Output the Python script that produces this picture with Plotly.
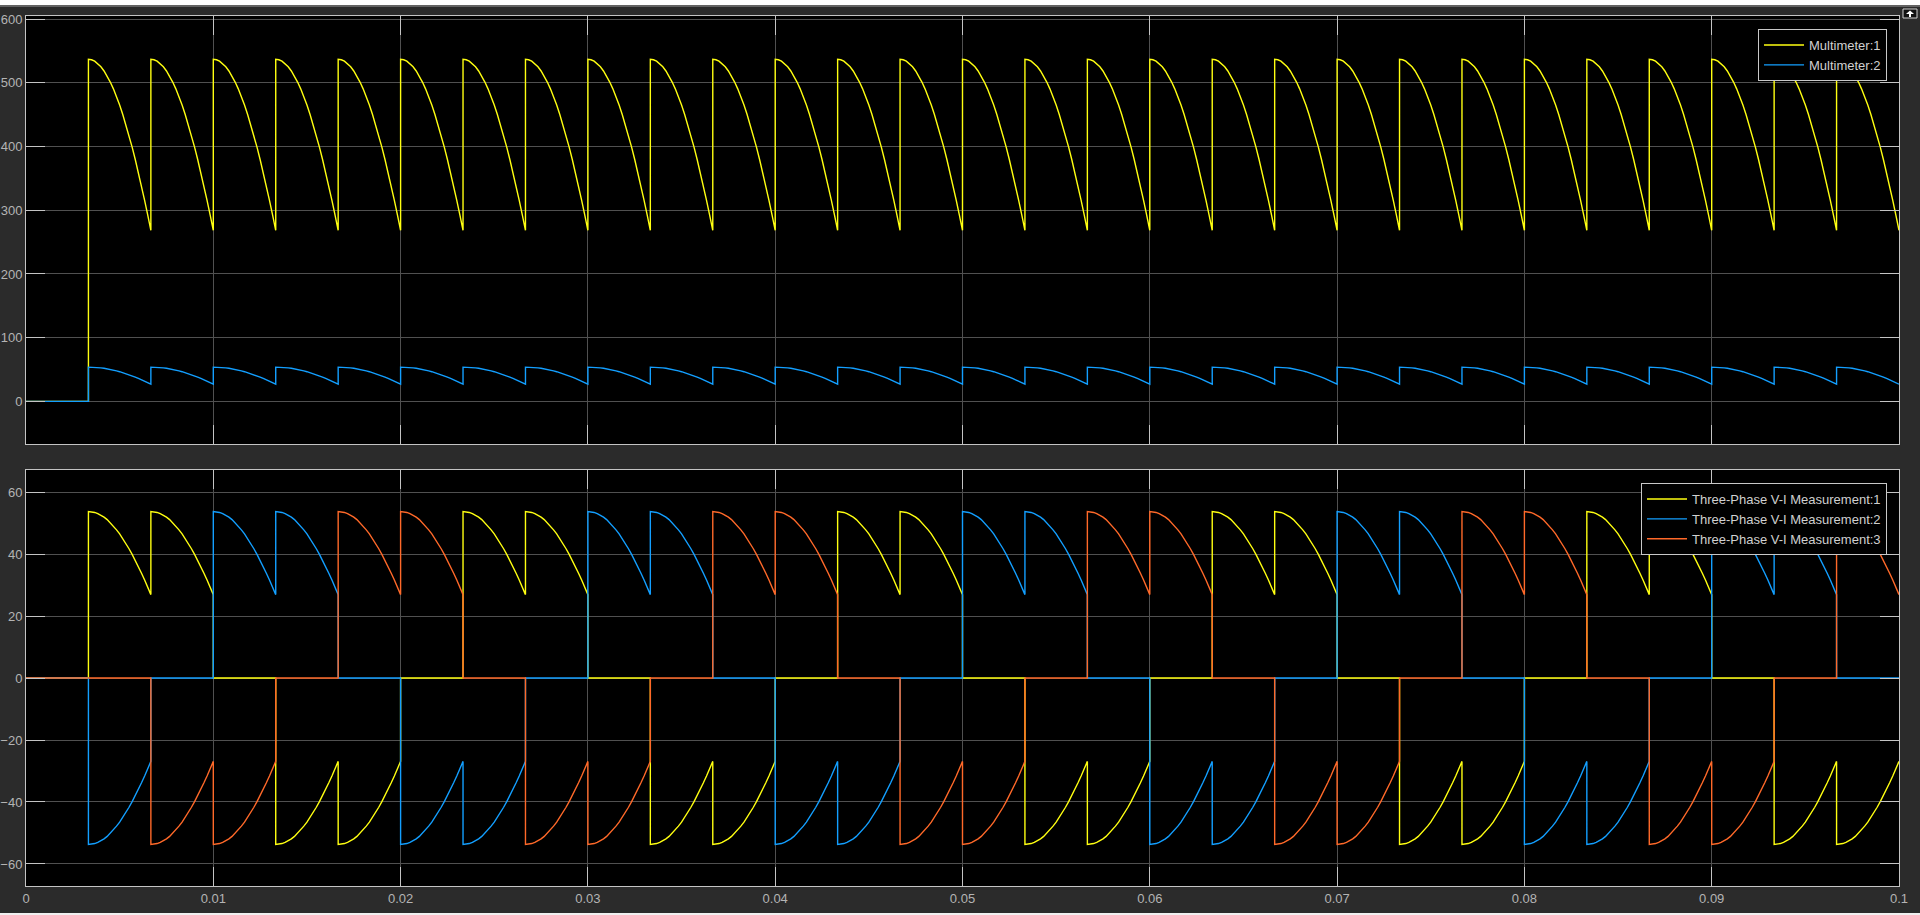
import plotly.graph_objects as go

# ---------------- data ----------------
# interval boundaries (s): 30 intervals of 1/300 s between 0 and 0.1
boundaries = [0.0, 0.003333, 0.006667, 0.01, 0.013333, 0.016667, 0.02, 0.023333, 0.026667, 0.03,
              0.033333, 0.036667, 0.04, 0.043333, 0.046667, 0.05, 0.053333, 0.056667, 0.06,
              0.063333, 0.066667, 0.07, 0.073333, 0.076667, 0.08, 0.083333, 0.086667, 0.09,
              0.093333, 0.096667, 0.1]

# shape of one ripple segment, sampled at fractions of the interval
shape_frac = [0.0, 0.05, 0.1, 0.15, 0.2, 0.25, 0.3, 0.35, 0.4, 0.45, 0.5,
              0.55, 0.6, 0.65, 0.7, 0.75, 0.8, 0.85, 0.9, 0.95, 1.0]
voltage_shape = [537, 536.3, 534.1, 530.4, 525.3, 518.7, 510.7, 501.3, 490.6, 478.5, 465.1,
                 450.4, 434.4, 417.3, 399.1, 379.7, 359.3, 337.9, 315.6, 292.5, 268.5]
current_shape = [53.7, 53.6, 53.4, 53.0, 52.5, 51.9, 51.1, 50.1, 49.1, 47.8, 46.5,
                 45.0, 43.4, 41.7, 39.9, 38.0, 35.9, 33.8, 31.6, 29.2, 26.9]

# conduction state per interval (1 = on, -1 = negative, 0 = off)
dc_state = [0, 1, 1, 1, 1, 1, 1, 1, 1, 1, 1, 1, 1, 1, 1, 1, 1, 1, 1, 1, 1, 1, 1, 1, 1, 1, 1, 1, 1, 1]
phase1_state = [0, 1, 1, 0, -1, -1, 0, 1, 1, 0, -1, -1, 0, 1, 1, 0, -1, -1, 0, 1, 1, 0, -1, -1, 0, 1, 1, 0, -1, -1]
phase2_state = [0, -1, 0, 1, 1, 0, -1, -1, 0, 1, 1, 0, -1, -1, 0, 1, 1, 0, -1, -1, 0, 1, 1, 0, -1, -1, 0, 1, 1, 0]
phase3_state = [0, 0, -1, -1, 0, 1, 1, 0, -1, -1, 0, 1, 1, 0, -1, -1, 0, 1, 1, 0, -1, -1, 0, 1, 1, 0, -1, -1, 0, 1]

top_names = ["Multimeter:1", "Multimeter:2"]
bottom_names = ["Three-Phase V-I Measurement:1", "Three-Phase V-I Measurement:2",
                "Three-Phase V-I Measurement:3"]

top_yticks = [0, 100, 200, 300, 400, 500, 600]
bottom_yticks = [-60, -40, -20, 0, 20, 40, 60]
x_ticks = [0, 0.01, 0.02, 0.03, 0.04, 0.05, 0.06, 0.07, 0.08, 0.09, 0.1]
x_ticktext = ["0", "0.01", "0.02", "0.03", "0.04", "0.05", "0.06", "0.07", "0.08", "0.09", "0.1"]

YELLOW = "#ffff11"
BLUE = "#139fff"
RED = "#ff6929"


def build(states, shape):
    xs, ys = [], []
    for k, s in enumerate(states):
        t0, t1 = boundaries[k], boundaries[k + 1]
        for f, v in zip(shape_frac, shape):
            xs.append(t0 + f * (t1 - t0))
            ys.append(s * v)
    return xs, ys


fig = go.Figure()
LW = 1.4

x, y = build(dc_state, voltage_shape)
fig.add_trace(go.Scatter(x=x, y=y, mode="lines", name=top_names[0], line=dict(color=YELLOW, width=LW),
                         xaxis="x", yaxis="y", legend="legend"))
x, y = build(dc_state, current_shape)
fig.add_trace(go.Scatter(x=x, y=y, mode="lines", name=top_names[1], line=dict(color=BLUE, width=LW),
                         xaxis="x", yaxis="y", legend="legend"))

for states, name, col in [(phase1_state, bottom_names[0], YELLOW),
                          (phase2_state, bottom_names[1], BLUE),
                          (phase3_state, bottom_names[2], RED)]:
    x, y = build(states, current_shape)
    fig.add_trace(go.Scatter(x=x, y=y, mode="lines", name=name, line=dict(color=col, width=LW),
                             xaxis="x2", yaxis="y2", legend="legend2"))

TICKFONT = dict(family="Liberation Sans, Arial, sans-serif", size=13, color="#b4b4b4")
axis_common = dict(showgrid=True, gridcolor="#505050", gridwidth=1, zeroline=False,
                   showline=True, linecolor="#c4c4c4", linewidth=1, mirror="ticks",
                   ticks="inside", ticklen=19, tickcolor="#c4c4c4", tickwidth=1,
                   tickfont=TICKFONT, automargin=False)

W, H = 1920, 915
t_m, b_m, l_m, r_m = 16, 29, 26, 21
ph = H - t_m - b_m
pw = W - l_m - r_m


def py(p):
    return (H - b_m - p) / ph


def px(p):
    return (p - l_m) / pw


LEGFONT = dict(family="Liberation Sans, Arial, sans-serif", size=13, color="#d0d0d0")

fig.update_layout(
    width=W, height=H,
    margin=dict(l=l_m, r=r_m, t=t_m, b=b_m),
    paper_bgcolor="#2b2b2b", plot_bgcolor="#000000",
    showlegend=True,
    xaxis=dict(domain=[0, 1], anchor="y", range=[0, 0.1], tickvals=x_ticks, ticktext=x_ticktext,
               showticklabels=False, **axis_common),
    yaxis=dict(domain=[py(444), 1], anchor="x", range=[-67, 605], tickvals=top_yticks, **axis_common),
    xaxis2=dict(domain=[0, 1], anchor="y2", range=[0, 0.1], tickvals=x_ticks, ticktext=x_ticktext,
                **axis_common),
    yaxis2=dict(domain=[0, py(470)], anchor="x2", range=[-67.1, 67.1], tickvals=bottom_yticks,
                **axis_common),
    legend=dict(x=px(1887), y=py(29), xanchor="right", yanchor="top",
                bgcolor="#000000", bordercolor="#c8c8c8", borderwidth=1,
                font=LEGFONT, tracegroupgap=0, itemwidth=40),
    legend2=dict(x=px(1887), y=py(483), xanchor="right", yanchor="top",
                 bgcolor="#000000", bordercolor="#c8c8c8", borderwidth=1,
                 font=LEGFONT, tracegroupgap=0, itemwidth=40),
    shapes=[
        dict(type="rect", xref="paper", yref="paper", x0=px(0), x1=px(1920),
             y0=py(5), y1=py(0), fillcolor="#ffffff", line=dict(width=0), layer="above"),
        dict(type="line", xref="paper", yref="paper", x0=px(0), x1=px(1920),
             y0=py(6), y1=py(6), line=dict(color="#9a9a9a", width=1)),
        dict(type="rect", xref="paper", yref="paper", x0=px(0), x1=px(1920),
             y0=py(915), y1=py(913), fillcolor="#f0f0f0", line=dict(width=0), layer="above"),
        # small scope toolbar button in the top-right corner
        dict(type="rect", xref="paper", yref="paper", x0=px(1903), x1=px(1917),
             y0=py(18), y1=py(9), fillcolor="#111111", line=dict(color="#d0d0d0", width=1)),
        dict(type="path", xref="paper", yref="paper",
             path=f"M {px(1906)},{py(14)} L {px(1910)},{py(10.5)} L {px(1914)},{py(14)} Z",
             fillcolor="#ffffff", line=dict(width=0)),
        dict(type="rect", xref="paper", yref="paper", x0=px(1909), x1=px(1911),
             y0=py(17), y1=py(14), fillcolor="#ffffff", line=dict(width=0)),
    ],
)

fig.write_html("out.html",
               config={"displayModeBar": False},
               post_script="document.body.style.margin='0';document.body.style.overflow='hidden';")
